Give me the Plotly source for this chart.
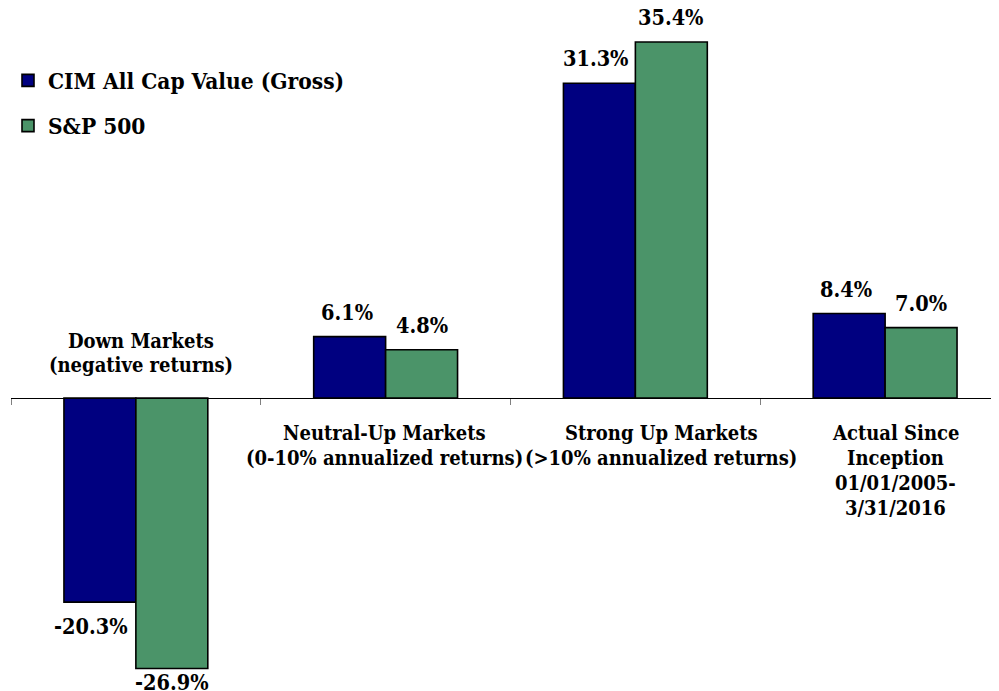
import plotly.graph_objects as go

# ---- data ----
categories = ["Down Markets", "Neutral-Up Markets", "Strong Up Markets", "Actual Since Inception"]
category_lines = [
    ["Down Markets", "(negative returns)"],
    ["Neutral-Up Markets", "(0-10% annualized returns)"],
    ["Strong Up Markets", "(>10% annualized returns)"],
    ["Actual Since", "Inception", "01/01/2005-", "3/31/2016"],
]
series_names = ["CIM All Cap Value (Gross)", "S&P 500"]
cim_values = [-20.3, 6.1, 31.3, 8.4]
sp_values = [-26.9, 4.8, 35.4, 7.0]

# ---- style ----
NAVY = "#000080"
GREEN = "#4B9469"
FONT = "DejaVu Serif Condensed"
PX_PER_UNIT = 10.056
W, H = 991, 683          # page body adds an 8px margin
ZERO_PX = 390            # zero line in figure pixels
label_xshift = [5, -1, 26, 10]   # horizontal nudges for category labels (style)

y_top = ZERO_PX / PX_PER_UNIT
y_bot = -(H - ZERO_PX) / PX_PER_UNIT

fig = go.Figure()
for name, vals, col in [(series_names[0], cim_values, NAVY), (series_names[1], sp_values, GREEN)]:
    fig.add_trace(go.Bar(
        x=categories, y=vals, name=name,
        marker=dict(color=col, line=dict(color="black", width=1.6)),
        legendgroup=name,
    ))

annotations = []
bar_half = 36
for i, cat in enumerate(categories):
    for j, vals in enumerate([cim_values, sp_values]):
        v = vals[i]
        xs = -bar_half - 3 if j == 0 else bar_half
        if v >= 0:
            ya, ysh = "bottom", 10
        else:
            ya, ysh = "top", 1
            other = sp_values[i] if j == 0 else cim_values[i]
            if other < v:      # shallower bar's label sits beside deeper neighbour
                ysh = -10
                xs -= 6
        annotations.append(dict(
            x=cat, y=v, xref="x", yref="y", text=f"{v:.1f}%", showarrow=False,
            xshift=xs, yshift=ysh, yanchor=ya, xanchor="center",
            font=dict(family=FONT, size=21.5, color="black", weight="bold"),
        ))

for i, cat in enumerate(categories):
    lines = category_lines[i]
    below = min(cim_values[i], sp_values[i]) >= 0
    n = len(lines)
    for k, line in enumerate(lines):
        ysh = (-35 - 25 * k) if below else (33 + 24 * (n - 1 - k))
        annotations.append(dict(
            x=cat, y=0, xref="x", yref="y", text=line, showarrow=False,
            xshift=label_xshift[i], yshift=ysh, yanchor="middle", xanchor="center",
            font=dict(family=FONT, size=20, color="black", weight="bold"),
        ))

fig.update_layout(
    width=W, height=H,
    margin=dict(l=2, r=0, t=0, b=0),
    paper_bgcolor="white", plot_bgcolor="white",
    barmode="group", bargap=0.424, bargroupgap=0,
    showlegend=True,
    legend=dict(
        x=-0.003, y=0.925, xanchor="left", yanchor="top",
        font=dict(family=FONT, size=22.5, color="black", weight="bold"),
        bgcolor="rgba(0,0,0,0)", tracegroupgap=13, itemclick=False,
    ),
    xaxis=dict(
        range=[-0.5, 3.456], showgrid=False, zeroline=False,
        showline=True, linecolor="black", linewidth=1,
        ticks="outside", tickson="boundaries", ticklen=6, tickcolor="#808080",
        showticklabels=False, anchor="free",
        position=(0 - y_bot) / (y_top - y_bot),
    ),
    yaxis=dict(range=[y_bot, y_top], visible=False, showgrid=False, zeroline=False),
    annotations=annotations,
)

fig.write_html("out.html")
